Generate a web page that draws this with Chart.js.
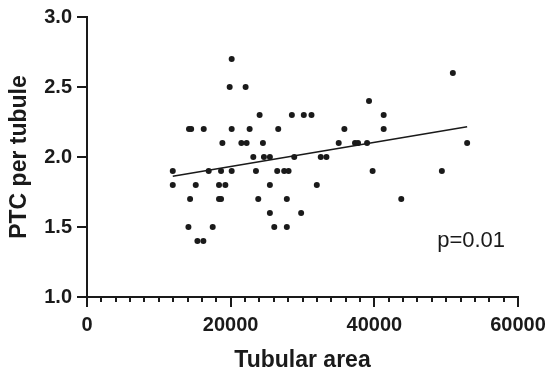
<!DOCTYPE html>
<html>
<head>
<meta charset="utf-8">
<script src="https://cdn.jsdelivr.net/npm/chart.js@4.4.1/dist/chart.umd.min.js"></script>
<style>
  html, body { margin: 0; padding: 0; background: #fff; }
  #wrap { width: 550px; height: 375px; position: relative; }
</style>
</head>
<body>
<div id="wrap"><canvas id="c" width="550" height="375"></canvas></div>
<script>
// Scatter data: tubular area (x) vs PTC per tubule (y)
const areaX = [
  15370, 16200,
  14120, 17500, 26070, 27820,
  25460, 29810,
  14350, 18380, 18660, 23840, 27820, 43750,
  11940, 15140, 18380, 19260, 25460, 31990,
  11940, 16940, 18660, 20140, 23520, 26480, 27450, 28060, 39760, 49400,
  23150, 24630, 25460, 28850, 32540, 33330,
  18850, 21490, 22220, 24490, 35040, 37310, 37730, 38990, 52920,
  14200, 14500, 16250, 20140, 22640, 26620, 35830, 41300,
  24030, 28520, 30180, 31250, 41300,
  39260,
  19860, 22080,
  50930,
  20140
];
const ptcY = [
  1.4, 1.4,
  1.5, 1.5, 1.5, 1.5,
  1.6, 1.6,
  1.7, 1.7, 1.7, 1.7, 1.7, 1.7,
  1.8, 1.8, 1.8, 1.8, 1.8, 1.8,
  1.9, 1.9, 1.9, 1.9, 1.9, 1.9, 1.9, 1.9, 1.9, 1.9,
  2.0, 2.0, 2.0, 2.0, 2.0, 2.0,
  2.1, 2.1, 2.1, 2.1, 2.1, 2.1, 2.1, 2.1, 2.1,
  2.2, 2.2, 2.2, 2.2, 2.2, 2.2, 2.2, 2.2,
  2.3, 2.3, 2.3, 2.3, 2.3,
  2.4,
  2.5, 2.5,
  2.6,
  2.7
];
// Regression line end points
const fitX = [11940, 52920];
const fitY = [1.862, 2.216];
// Axis ticks
const xMajorTicks = [0, 20000, 40000, 60000];
const yTicks = [1.0, 1.5, 2.0, 2.5, 3.0];
const pLabel = 'p=0.01';
const pLabelPos = [48750, 1.36];

const FONT = '"Liberation Sans", Arial, Helvetica, sans-serif';
const INK = '#1a1a1a';

const scatterPts = areaX.map((x, i) => ({ x: x, y: ptcY[i] }));
const fitPts = fitX.map((x, i) => ({ x: x, y: fitY[i] }));

const extrasPlugin = {
  id: 'extras',
  afterDraw(chart) {
    const ctx = chart.ctx;
    const xs = chart.scales.x, ys = chart.scales.y;
    const bottom = chart.chartArea.bottom;
    ctx.save();
    ctx.strokeStyle = INK;
    ctx.lineWidth = 2;
    xMajorTicks.forEach(v => {
      const px = Math.round(xs.getPixelForValue(v));
      ctx.beginPath();
      ctx.moveTo(px, bottom);
      ctx.lineTo(px, bottom + 10);
      ctx.stroke();
    });
    ctx.fillStyle = INK;
    ctx.font = '22px ' + FONT;
    ctx.textAlign = 'left';
    ctx.textBaseline = 'alphabetic';
    ctx.fillText(pLabel, xs.getPixelForValue(pLabelPos[0]), ys.getPixelForValue(pLabelPos[1]));
    ctx.restore();
  }
};

new Chart(document.getElementById('c'), {
  type: 'scatter',
  data: {
    datasets: [
      {
        type: 'scatter',
        data: scatterPts,
        backgroundColor: INK,
        borderColor: INK,
        pointRadius: 3,
        pointBorderWidth: 0
      },
      {
        type: 'line',
        data: fitPts,
        borderColor: INK,
        borderWidth: 1.6,
        pointRadius: 0,
        fill: false,
        tension: 0
      }
    ]
  },
  options: {
    responsive: false,
    animation: false,
    devicePixelRatio: 1,
    layout: { padding: { top: 17, right: 32, left: 0, bottom: 0 } },
    plugins: { legend: { display: false }, tooltip: { enabled: false } },
    scales: {
      x: {
        type: 'linear',
        position: 'bottom',
        min: 0, max: 60000,
        afterFit(s) { s.height = 78; s.paddingLeft = 0; s.paddingRight = 0; },
        afterBuildTicks(s) {
          const t = [];
          for (let v = 0; v <= 60000; v += 2000) t.push({ value: v });
          s.ticks = t;
        },
        ticks: {
          autoSkip: false, maxRotation: 0, minRotation: 0,
          padding: 11,
          color: INK,
          font: { family: FONT, size: 20, weight: 'bold' },
          callback: (v) => xMajorTicks.includes(v) ? String(v) : ''
        },
        grid: { drawOnChartArea: false, drawTicks: true, tickLength: 5, color: INK, lineWidth: 2 },
        border: { display: true, color: INK, width: 2 },
        title: {
          display: true, text: 'Tubular area', color: INK,
          font: { family: FONT, size: 23, weight: 'bold' },
          padding: { top: 0, bottom: 1 }
        }
      },
      y: {
        type: 'linear',
        position: 'left',
        min: 1, max: 3,
        afterFit(s) { s.width = 87; s.paddingTop = 0; s.paddingBottom = 0; },
        afterBuildTicks(s) { s.ticks = yTicks.map(v => ({ value: v })); },
        ticks: {
          padding: 5,
          color: INK,
          font: { family: FONT, size: 20, weight: 'bold' },
          callback: (v) => Number(v).toFixed(1)
        },
        grid: { drawOnChartArea: false, drawTicks: true, tickLength: 10, color: INK, lineWidth: 2 },
        border: { display: true, color: INK, width: 2 },
        title: {
          display: true, text: 'PTC per tubule', color: INK,
          font: { family: FONT, size: 23, weight: 'bold' },
          padding: { top: 6, bottom: 0 }
        }
      }
    }
  },
  plugins: [extrasPlugin]
});
</script>
</body>
</html>
